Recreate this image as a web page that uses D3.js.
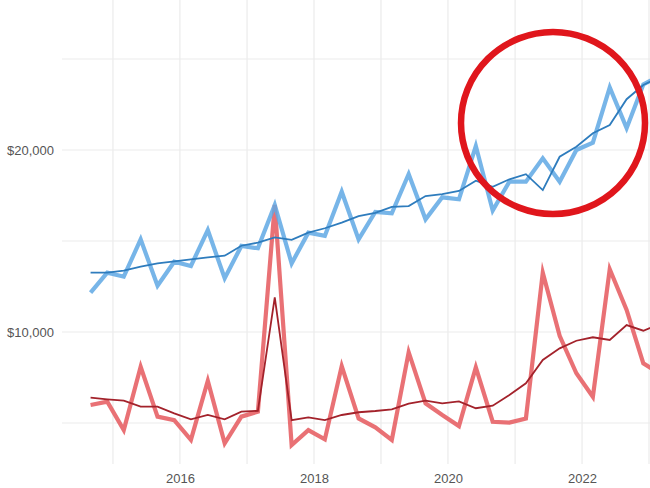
<!DOCTYPE html>
<html>
<head>
<meta charset="utf-8">
<script src="https://cdn.jsdelivr.net/npm/d3@7"></script>
<style>
  html, body { margin: 0; padding: 0; background: #fff; }
  svg { display: block; font-family: "Liberation Sans", Arial, sans-serif; }
</style>
</head>
<body>
<svg id="chart" width="650" height="488"></svg>
<script>
// Quarterly observation dates
const quarters = [
  "2014-09-01","2014-12-01","2015-03-01","2015-06-01","2015-09-01","2015-12-01",
  "2016-03-01","2016-06-01","2016-09-01","2016-12-01","2017-03-01","2017-06-01",
  "2017-09-01","2017-12-01","2018-03-01","2018-06-01","2018-09-01","2018-12-01",
  "2019-03-01","2019-06-01","2019-09-01","2019-12-01","2020-03-01","2020-06-01",
  "2020-09-01","2020-12-01","2021-03-01","2021-06-01","2021-09-01","2021-12-01",
  "2022-03-01","2022-06-01","2022-09-01","2022-12-01","2023-03-01"
];
// Blue series: raw and trend
const blueRaw = [
  12160,13260,13040,15090,12540,13860,13630,15600,12950,14730,14600,16980,
  13770,15460,15280,17710,15090,16600,16520,18680,16190,17400,17290,20220,
  16670,18260,18260,19540,18260,20000,20400,23440,21200,23600,24100
];
const blueTrend = [
  13260,13260,13370,13590,13770,13880,13990,14100,14190,14740,14910,15200,
  15060,15460,15700,16010,16370,16550,16880,16920,17470,17580,17750,18310,
  17980,18390,18670,17800,19630,20180,20920,21370,22790,23570,24000
];
// Red series: raw and trend
const redRaw = [
  5990,6170,4610,8090,5350,5160,4070,7320,3880,5350,5620,16980,
  3790,4610,4100,8130,5250,4760,4070,8890,6080,5440,4830,8060,
  5070,5020,5250,13260,9790,7730,6440,13450,11210,8280,7700
];
const redTrend = [
  6390,6300,6230,5900,5900,5530,5200,5440,5200,5620,5670,11900,
  5160,5310,5160,5440,5590,5660,5750,6060,6230,6080,6190,5810,
  5950,6540,7180,8460,9100,9520,9710,9560,10380,10070,10450
];
const yearTicks = [2016, 2018, 2020, 2022];
const yearGrid = [2015, 2016, 2017, 2018, 2019, 2020, 2021, 2022, 2023];
const valueTicks = [10000, 20000];
const valueGrid = [5000, 10000, 15000, 20000, 25000];

const svg = d3.select("#chart");
const parse = d3.timeParse("%Y-%m-%d");
const dates = quarters.map(parse);

const x = d3.scaleTime()
  .domain([new Date(2014, 0, 1), new Date(2023, 0, 1)])
  .range([46, 649]);
const y = d3.scaleLinear().domain([0, 30000]).range([514, -32]);

const panelLeft = 62, panelRight = 650, panelTop = 0, panelBottom = 464;

// Gridlines
const grid = svg.append("g");
grid.selectAll("line.v").data(yearGrid).join("line")
  .attr("x1", d => x(new Date(d, 0, 1))).attr("x2", d => x(new Date(d, 0, 1)))
  .attr("y1", panelTop).attr("y2", panelBottom)
  .attr("stroke", "#ebebeb").attr("stroke-width", 1.2);
grid.selectAll("line.h").data(valueGrid).join("line")
  .attr("x1", panelLeft).attr("x2", panelRight)
  .attr("y1", d => y(d)).attr("y2", d => y(d))
  .attr("stroke", "#ebebeb").attr("stroke-width", 1.2);

// Axes (labels only)
const yAxis = svg.append("g").attr("transform", `translate(${panelLeft - 8},0)`)
  .call(d3.axisLeft(y).tickValues(valueTicks).tickFormat(d3.format("$,")).tickSize(0).tickPadding(0));
yAxis.select(".domain").remove();
yAxis.selectAll("text").attr("font-size", 13).attr("fill", "#555")
  .attr("font-family", "'Liberation Sans', Arial, sans-serif");

const xAxis = svg.append("g").attr("transform", `translate(0,${panelBottom + 8})`)
  .call(d3.axisBottom(x).tickValues(yearTicks.map(d => new Date(d, 0, 1)))
    .tickFormat(d3.timeFormat("%Y")).tickSize(0).tickPadding(2));
xAxis.select(".domain").remove();
xAxis.selectAll("text").attr("font-size", 13).attr("fill", "#555")
  .attr("font-family", "'Liberation Sans', Arial, sans-serif");

const line = vals => d3.line().x((d, i) => x(dates[i])).y(d => y(d))(vals);

svg.append("path").attr("d", line(redRaw)).attr("fill", "none")
  .attr("stroke", "#e5585d").attr("stroke-opacity", 0.85).attr("stroke-width", 4.2)
  .attr("stroke-miterlimit", 10);
svg.append("path").attr("d", line(redTrend)).attr("fill", "none")
  .attr("stroke", "#a3222b").attr("stroke-width", 1.8);
svg.append("path").attr("d", line(blueRaw)).attr("fill", "none")
  .attr("stroke", "#5fa8e4").attr("stroke-opacity", 0.85).attr("stroke-width", 4.2)
  .attr("stroke-miterlimit", 10);
svg.append("path").attr("d", line(blueTrend)).attr("fill", "none")
  .attr("stroke", "#2e7cbd").attr("stroke-width", 1.8);

// Annotation circle
svg.append("ellipse").attr("cx", 553).attr("cy", 123).attr("rx", 92).attr("ry", 91)
  .attr("fill", "none").attr("stroke", "#e0161c").attr("stroke-width", 6.5);
</script>
</body>
</html>
